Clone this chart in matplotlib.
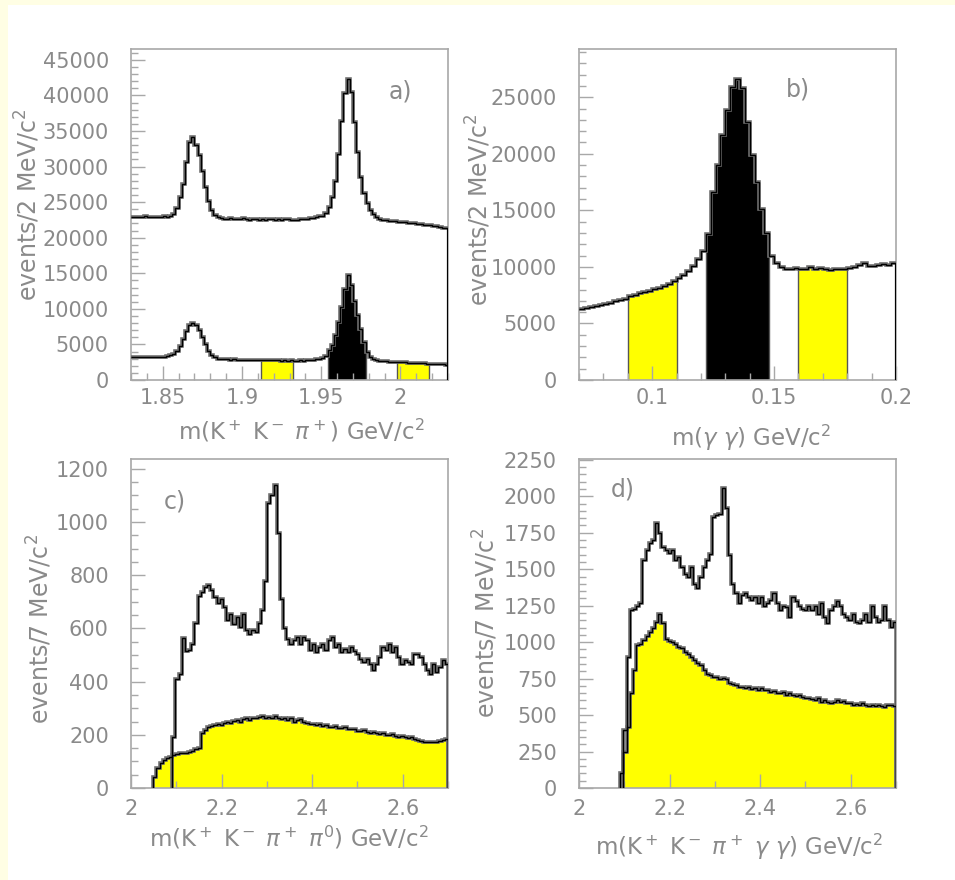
import numpy as np
import matplotlib
matplotlib.use("Agg")
import matplotlib.pyplot as plt
from matplotlib.patches import Rectangle
from matplotlib.ticker import MultipleLocator, FuncFormatter

# ---------------- data ----------------
# a) m(K+ K- pi+), 2 MeV bins from 1.83 to 2.03 GeV
a_range = (1.83, 2.03)
a_upper = [22900, 22950, 22850, 22900, 23000, 22900, 22950, 22850, 22900, 22950, 23000, 22950,
           23100, 23400, 24200, 25700, 27600, 30700, 33500, 34200, 33100, 31600, 29400, 27200,
           25100, 23900, 23200, 22900, 22750,
           22700, 22650, 22800, 22650, 22700, 22600, 22750, 22650, 22550, 22700, 22600, 22500,
           22650, 22550, 22700, 22600, 22550, 22650, 22500, 22600, 22700, 22550, 22500, 22550,
           22600, 22650, 22700, 22750, 22800, 22900, 23000,
           23100, 23500, 24300, 25700, 28000, 31700, 36400, 40400, 42300, 40500, 36200, 32000,
           28500, 26300, 24900, 23900, 23300, 22900,
           22600, 22500, 22450, 22400, 22350, 22300, 22250, 22200, 22150, 22100, 22100, 22000,
           21950, 21900, 21850, 21800, 21750, 21700, 21600, 21500, 21400, 21300]
a_lower = [3250, 3200, 3250, 3200, 3250, 3300, 3250, 3200, 3250, 3300, 3300, 3350,
           3450, 3700, 4100, 4800, 5800, 6900, 7700, 8050, 7800, 7000, 6000, 5000,
           4100, 3500, 3200, 3000, 2950,
           2900, 2900, 2850, 2900, 2850, 2850, 2800, 2850, 2800, 2800, 2750, 2800,
           2800, 2750, 2750, 2800, 2750, 2750, 2700, 2750, 2700, 2750, 2700, 2700,
           2750, 2700, 2750, 2800, 2850, 2900, 2950,
           3050, 3400, 4200, 4900, 6300, 8200, 10200, 12800, 14700, 13400, 11100, 9200,
           7100, 5300, 3900, 3300, 2950, 2750,
           2700, 2650, 2650, 2600, 2600, 2550, 2550, 2500, 2500, 2450, 2450, 2400,
           2400, 2350, 2350, 2300, 2300, 2250, 2250, 2200, 2200, 2150]
a_signal = (1.954, 1.978)
a_sidebands = [(1.912, 1.932), (1.998, 2.018)]

# b) m(gamma gamma), 2 MeV bins from 0.07 to 0.20 GeV
b_range = (0.07, 0.20)
b_counts = [6250, 6350, 6450, 6500, 6650, 6750, 6850, 6950, 7100, 7200,
            7400, 7550, 7650, 7800, 7900, 8050, 8100, 8350, 8500, 8750,
            9050, 9300, 9650, 10100, 10700, 11400,
            12900, 16600, 19000, 21700, 23900, 25900, 26600, 25800, 22800, 19900,
            17500, 15100, 13000,
            11000, 10300, 9950, 9800, 9850, 9900, 9800, 9850, 9950, 9850,
            9900, 9800, 9750, 9850, 9850, 9800, 9900, 9950, 10200, 10300,
            10100, 10050, 10150, 10250, 10200, 10300]
b_signal = (0.122, 0.148)
b_sidebands = [(0.090, 0.110), (0.160, 0.180)]

# c) m(K+ K- pi+ pi0), 7 MeV bins from 2.0 to 2.7 GeV
c_range = (2.0, 2.7)
c_upper = [0] * 13 + [
    190, 410, 430, 565, 515, 520, 540, 620, 720, 735, 756, 765, 745, 718, 695, 711, 680,
    630, 655, 618, 643, 605, 655, 593, 580, 593, 585, 620, 670, 780, 1070, 1100, 1140,
    960, 710, 600, 560,
    542, 555, 567, 542, 567, 555, 518, 542, 511, 530, 542, 518, 555, 567, 530, 542, 511,
    523, 511, 530, 515, 505, 486, 474, 486, 467, 442, 467, 492, 530, 518, 542, 511, 530,
    492, 467, 480, 474, 467, 505, 505, 492, 467, 442, 430, 467, 436, 455, 480, 467]
c_lower = [0] * 7 + [
    40, 75, 95, 105, 112, 118, 124, 128, 130, 131, 133, 136, 140, 146, 150, 205, 218,
    228, 232, 236, 240, 238, 245, 248, 244, 252, 255, 250, 258, 262, 255, 265, 262, 268,
    270, 262, 268, 265, 272, 265, 258, 262, 255, 262, 250, 255, 258, 248, 245, 240, 242,
    236, 240, 232, 236, 230, 228, 232, 226, 225, 228, 222, 220, 222, 216, 214, 218, 210,
    208, 212, 205, 203, 208, 200, 198, 202, 196, 192, 195, 190, 188, 192, 185, 180, 176,
    174, 172, 174, 172, 173, 175, 180, 184]

# d) m(K+ K- pi+ gamma gamma), 7 MeV bins from 2.0 to 2.7 GeV
d_range = (2.0, 2.7)
d_upper = [0] * 13 + [
    100, 400, 900, 1220, 1230, 1245, 1265, 1560, 1630, 1680, 1700, 1815, 1745, 1655,
    1630, 1610, 1630, 1565, 1585, 1515, 1470, 1450, 1515, 1400, 1370, 1445, 1515, 1560,
    1605, 1860, 1870, 1880, 2060, 1920, 1600, 1400, 1335, 1265,
    1320, 1335, 1310, 1290, 1310, 1265, 1310, 1245, 1265, 1290, 1335, 1265, 1220, 1245,
    1240, 1175, 1310, 1285, 1245, 1230, 1220, 1245, 1220, 1245, 1195, 1265, 1175, 1130,
    1220, 1245, 1285, 1245, 1195, 1175, 1150, 1195, 1140, 1130, 1150, 1195, 1140, 1245,
    1175, 1140, 1150, 1245, 1150, 1105, 1140]
d_lower = [0] * 14 + [
    250, 420, 650, 810, 980, 985, 1015, 1040, 1070, 1095, 1135, 1195, 1130, 1025, 1010,
    1000, 990, 968, 960, 934, 920, 899, 877, 854, 845, 808, 785, 775, 762, 760, 750, 753,
    745, 717, 710, 705, 694, 690, 685, 694, 680, 683, 675, 683, 670, 671, 660, 665, 650,
    649, 655, 640, 649, 637, 632, 640, 625, 614, 620, 612, 605, 614, 591, 600, 591, 585,
    593, 603, 590, 597, 580, 585, 571, 578, 570, 580, 571, 565, 568, 560, 566, 560, 555,
    568, 572, 560]

# ---------------- style ----------------
W, H = 955, 880
GRAY_TXT = "#8a8a8a"
GRAY_AX = "#a8a8a8"
YELLOW = "#ffff00"
plt.rcParams["font.family"] = ["DejaVu Sans"]
plt.rcParams["mathtext.fontset"] = "dejavusans"

fig = plt.figure(figsize=(W / 100, H / 100), dpi=100)
fig.patch.set_facecolor("#fffee4")
fig.add_artist(Rectangle((8 / W, 0), 1, 1 - 5 / H, transform=fig.transFigure,
                         facecolor="white", edgecolor="none", zorder=-10))


def px_axes(l, t, r, b):
    return fig.add_axes([l / W, 1 - b / H, (r - l) / W, (b - t) / H])


def ftext(x, y, s, **kw):
    kw.setdefault("color", GRAY_TXT)
    kw.setdefault("fontsize", 16)
    fig.text(x / W, 1 - y / H, s, ha="center", va="center", **kw)


def style(ax, xmaj, xmin, ymaj, ymin, xpad):
    ax.set_facecolor("white")
    for s in ax.spines.values():
        s.set_color(GRAY_AX)
        s.set_linewidth(1.2)
    ax.xaxis.set_major_locator(MultipleLocator(xmaj))
    ax.xaxis.set_minor_locator(MultipleLocator(xmin))
    ax.yaxis.set_major_locator(MultipleLocator(ymaj))
    ax.yaxis.set_minor_locator(MultipleLocator(ymin))
    fmt = FuncFormatter(lambda v, p: "%g" % round(v, 6))
    ax.xaxis.set_major_formatter(fmt)
    ax.yaxis.set_major_formatter(fmt)
    ax.tick_params(which="both", direction="in", color=GRAY_AX, width=1.0,
                   labelcolor=GRAY_TXT, labelsize=15, top=False, right=False)
    ax.tick_params(which="major", length=10)
    ax.tick_params(which="minor", length=5)
    ax.tick_params(axis="y", which="major", pad=16)
    ax.tick_params(axis="x", which="major", pad=xpad)


def outline(ax, edges, vals, baseline=None):
    ax.stairs(vals, edges, baseline=baseline, color="#707070", lw=2.6, zorder=3)
    ax.stairs(vals, edges, baseline=baseline, color="black", lw=1.0, zorder=4)


def band(ax, edges, vals, lo, hi, color):
    centers = 0.5 * (edges[:-1] + edges[1:])
    sel = np.where((centers > lo) & (centers < hi))[0]
    i0, i1 = sel[0], sel[-1] + 1
    ax.stairs(vals[i0:i1], edges[i0:i1 + 1], baseline=0, fill=True,
              facecolor=color, edgecolor="#555555", lw=1.0, zorder=1)


def right_drop(ax, edges, vals):
    ax.vlines(edges[-1], 0, vals[-1], color="black", lw=1.6, zorder=4)


# ---------- panel a ----------
ax = px_axes(131, 49, 448, 380)
up = np.array(a_upper, float)
lo = np.array(a_lower, float)
e = np.linspace(a_range[0], a_range[1], len(up) + 1)
band(ax, e, lo, a_signal[0], a_signal[1], "black")
for s0, s1 in a_sidebands:
    band(ax, e, lo, s0, s1, YELLOW)
outline(ax, e, up)
outline(ax, e, lo)
right_drop(ax, e, up)
ax.set_xlim(*a_range)
ax.set_ylim(0, 1.1 * up.max())
style(ax, 0.05, 0.01, 5000, 1000, 6)

# ---------- panel b ----------
ax = px_axes(579, 49, 896, 380)
bv = np.array(b_counts, float)
e = np.linspace(b_range[0], b_range[1], len(bv) + 1)
band(ax, e, bv, b_signal[0], b_signal[1], "black")
for s0, s1 in b_sidebands:
    band(ax, e, bv, s0, s1, YELLOW)
outline(ax, e, bv)
right_drop(ax, e, bv)
ax.set_xlim(*b_range)
ax.set_ylim(0, 1.1 * bv.max())
style(ax, 0.05, 0.01, 5000, 1000, 6)

# ---------- panel c ----------
ax = px_axes(131, 459, 448, 788)
up = np.array(c_upper, float)
lo = np.array(c_lower, float)
e = np.linspace(c_range[0], c_range[1], len(up) + 1)
k = np.argmax(lo > 0)
ax.stairs(lo[k:], e[k:], baseline=0, fill=True, facecolor=YELLOW, edgecolor="none", zorder=1)
outline(ax, e[k:], lo[k:], baseline=0)
k = np.argmax(up > 0)
outline(ax, e[k:], up[k:], baseline=0)
ax.set_xlim(*c_range)
ax.set_ylim(0, 1.085 * up.max())
style(ax, 0.2, 0.1, 200, 50, 8)

# ---------- panel d ----------
ax = px_axes(579, 459, 896, 788)
up = np.array(d_upper, float)
lo = np.array(d_lower, float)
e = np.linspace(d_range[0], d_range[1], len(up) + 1)
k = np.argmax(lo > 0)
ax.stairs(lo[k:], e[k:], baseline=0, fill=True, facecolor=YELLOW, edgecolor="none", zorder=1)
outline(ax, e[k:], lo[k:], baseline=0)
k = np.argmax(up > 0)
outline(ax, e[k:], up[k:], baseline=0)
ax.set_xlim(*d_range)
ax.set_ylim(0, 1.095 * up.max())
style(ax, 0.2, 0.1, 250, 50, 8)

# ---------- texts ----------
ftext(28, 205, r"events/2 MeV/c$^2$", rotation=90, fontsize=17)
ftext(478, 210, r"events/2 MeV/c$^2$", rotation=90, fontsize=17)
ftext(39, 629, r"events/7 MeV/c$^2$", rotation=90, fontsize=17)
ftext(485, 623, r"events/7 MeV/c$^2$", rotation=90, fontsize=17)

ftext(301, 431, r"m(K$^+$ K$^-$ $\pi^+$) GeV/c$^2$", fontsize=16.5)
ftext(751, 438, r"m($\gamma$ $\gamma$) GeV/c$^2$", fontsize=16.5)
ftext(289, 838, r"m(K$^+$ K$^-$ $\pi^+$ $\pi^0$) GeV/c$^2$", fontsize=16.5)
ftext(739, 847, r"m(K$^+$ K$^-$ $\pi^+$ $\gamma$ $\gamma$) GeV/c$^2$", fontsize=16.5)

ftext(400, 92, "a)", fontsize=17)
ftext(798, 90, "b)", fontsize=17)
ftext(175, 502, "c)", fontsize=17)
ftext(623, 490, "d)", fontsize=17)

fig.savefig("out.png", dpi=100, facecolor=fig.get_facecolor())
